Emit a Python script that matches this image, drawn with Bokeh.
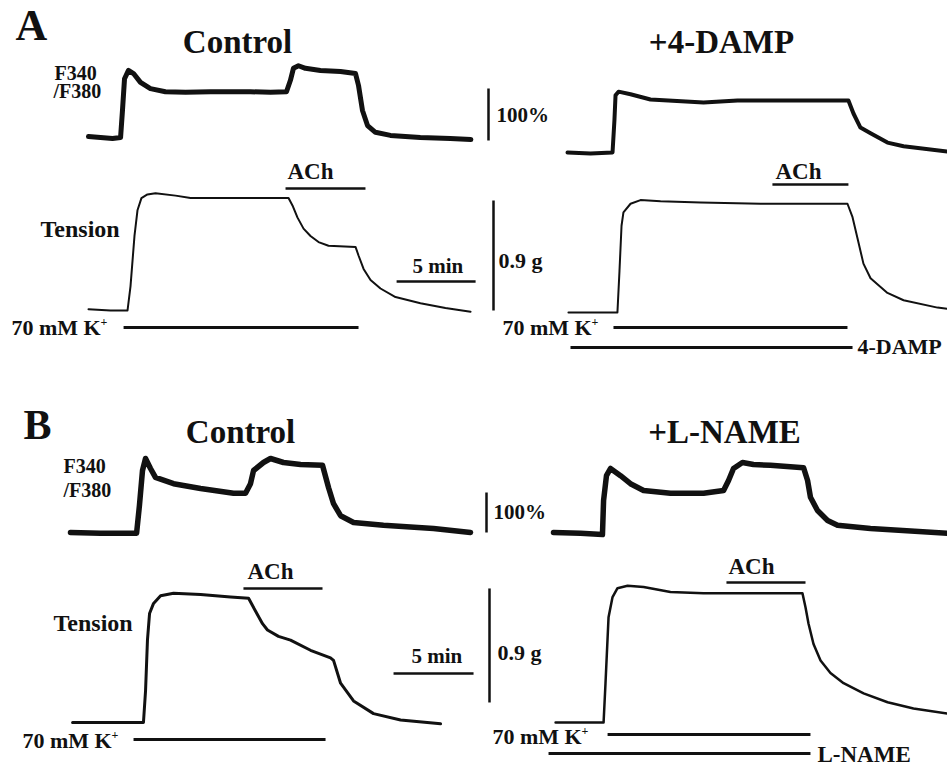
from bokeh.plotting import figure
from bokeh.models import Range1d
from bokeh.core.properties import value
from bokeh.embed import file_html
from bokeh.resources import INLINE

# ---------------- data (time in min, Fura-2 ratio in % of rest, tension in g) -------------
# Panel A, Control
A_CTRL_RATIO_T = [0, 0.76, 1.52, 2.03, 2.15, 2.28, 2.53, 2.85, 3.29, 3.92, 4.87, 6.14, 7.72, 8.99,
                  10.25, 11.52, 12.53, 12.78, 12.97, 13.29, 13.73, 14.68, 15.95, 16.9, 17.09, 17.34,
                  17.66, 18.16, 19.11, 21.0, 22.9, 24.2]
A_CTRL_RATIO_V = [2, 0, -2, 0, 52, 113, 129, 123, 106, 94, 88, 87, 88, 88, 88, 87, 88, 110, 133,
                  138, 133, 129, 127, 123, 100, 52, 23, 10, 4, 0, -2, -4]
A_CTRL_TENS_T = [0, 1.39, 2.47, 2.66, 2.91, 3.10, 3.35, 3.73, 4.24, 5.51, 6.46, 8.99, 11.52, 12.66,
                 12.91, 13.23, 13.61, 14.05, 14.56, 15.19, 16.90, 17.09, 17.41, 17.85, 18.48, 19.43,
                 21.01, 22.59, 24.18]
A_CTRL_TENS_V = [0.01, 0, 0, 0.20, 0.61, 0.82, 0.92, 0.95, 0.96, 0.94, 0.92, 0.92, 0.92, 0.92,
                 0.86, 0.76, 0.67, 0.61, 0.56, 0.53, 0.52, 0.45, 0.34, 0.25, 0.18, 0.11, 0.06,
                 0.02, -0.01]
# Panel A, +4-DAMP
A_DAMP_RATIO_T = [0, 1.46, 2.85, 2.97, 3.04, 3.23, 3.99, 5.25, 8.61, 10.76, 14.94, 17.78, 18.10,
                  18.54, 19.18, 20.25, 21.27, 24.05]
A_DAMP_RATIO_V = [0, -2, 0, 62, 110, 117, 112, 102, 96, 100, 100, 100, 75, 48, 37, 19, 12, 2]
A_DAMP_TENS_T = [0.06, 3.16, 3.29, 3.42, 3.54, 3.99, 4.62, 5.89, 8.42, 12.22, 17.72, 18.04, 18.35,
                 18.73, 19.18, 20.25, 21.27, 23.42, 24.05]
A_DAMP_TENS_V = [0, 0, 0.34, 0.71, 0.82, 0.89, 0.92, 0.91, 0.90, 0.89, 0.89, 0.78, 0.61, 0.40,
                 0.28, 0.16, 0.10, 0.04, 0.03]
# Panel B, Control
B_CTRL_RATIO_T = [0, 1.88, 4.13, 4.31, 4.5, 4.69, 5.0, 5.31, 6.44, 8.13, 10.19, 10.94, 11.25, 11.44,
                  12.06, 12.5, 13.31, 14.38, 15.75, 16.13, 16.44, 16.88, 17.69, 19.56, 22.69, 25.0]
B_CTRL_RATIO_V = [0, -2, -2, 68, 155, 185, 160, 138, 122, 110, 98, 98, 122, 155, 175, 185, 175,
                  170, 168, 112, 72, 42, 25, 18, 10, 0]
B_CTRL_TENS_T = [0.13, 4.56, 4.69, 4.81, 4.94, 5.19, 5.63, 6.44, 8.13, 10.0, 11.13, 11.56, 12.0,
                 12.31, 13.0, 13.75, 15.0, 16.25, 16.44, 16.88, 17.69, 18.94, 20.63, 23.13]
B_CTRL_TENS_V = [0, 0, 0.25, 0.65, 0.86, 0.94, 1.00, 1.02, 1.01, 0.99, 0.98, 0.88, 0.78, 0.73,
                 0.68, 0.65, 0.57, 0.51, 0.49, 0.31, 0.17, 0.07, 0.02, -0.01]
# Panel B, +L-NAME
B_LNAME_RATIO_T = [0, 1.69, 3.06, 3.13, 3.31, 3.56, 4.19, 4.81, 5.63, 7.31, 9.38, 10.63, 10.94,
                   11.25, 11.81, 12.5, 13.56, 15.63, 15.88, 16.06, 16.5, 17.13, 17.75, 19.81, 24.63]
B_LNAME_RATIO_V = [0, -2, -5, 80, 142, 160, 142, 122, 105, 98, 98, 105, 130, 160, 175, 170, 168,
                   162, 130, 88, 55, 30, 18, 10, -2]
B_LNAME_TENS_T = [0.13, 3.13, 3.25, 3.44, 3.69, 4.0, 4.63, 5.63, 7.31, 9.38, 13.56, 15.56, 15.75,
                  15.94, 16.25, 16.69, 17.31, 18.13, 19.38, 20.88, 22.5, 24.63]
B_LNAME_TENS_V = [0, 0, 0.31, 0.83, 0.99, 1.06, 1.08, 1.07, 1.03, 1.02, 1.02, 1.02, 0.91, 0.78,
                  0.62, 0.49, 0.39, 0.31, 0.23, 0.16, 0.11, 0.07]

# application periods (min): [start, end]
A_CTRL_K = [2.22, 17.09]
A_CTRL_ACH = [12.47, 17.53]
A_DAMP_K = [2.91, 17.72]
A_DAMP_ACH = [12.97, 17.78]
A_DAMP_DRUG = [0.19, 18.04]
B_CTRL_K = [3.94, 15.94]
B_CTRL_ACH = [10.81, 15.75]
B_LNAME_K = [3.38, 16.06]
B_LNAME_ACH = [10.81, 15.75]
B_LNAME_DRUG = [-0.31, 16.06]

# scale bars
SCALE_TIME = 5.0      # min
SCALE_RATIO = 100.0   # %
SCALE_TENSION = 0.9   # g

# ---------------- layout ----------------
W, H = 947, 767
OFF = 0
INK = "#111111"
FONT = value("Liberation Serif")
BASE_SHIFT = 0.38   # empirical correction of the SVG alphabetic baseline (in em)


def xr(t0_px, px_per_min):
    return Range1d((OFF - t0_px) / px_per_min, (OFF + W - t0_px) / px_per_min)


def yr(zero_px, px_per_unit):
    return Range1d((zero_px - (OFF + H)) / px_per_unit, (zero_px - OFF) / px_per_unit)


p = figure(width=W, height=H, x_range=Range1d(OFF, OFF + W), y_range=Range1d(OFF + H, OFF),
           output_backend="svg", toolbar_location=None, min_border=0,
           x_axis_location=None, y_axis_location=None)
p.outline_line_color = None
p.grid.visible = False
p.background_fill_color = "white"
p.border_fill_color = "white"

p.extra_x_ranges = {
    "tAL": xr(88, 15.8), "tAR": xr(567, 15.8),
    "tBL": xr(70, 16.0), "tBR": xr(553, 16.0),
}
p.extra_y_ranges = {
    "rAL": yr(137, 0.52), "gAL": yr(310, 122.2),
    "rAR": yr(152, 0.52), "gAR": yr(312, 122.2),
    "rBL": yr(532, 0.40), "gBL": yr(722, 126.7),
    "rBR": yr(532, 0.40), "gBR": yr(722, 126.7),
}

traces = [
    (A_CTRL_RATIO_T, A_CTRL_RATIO_V, "tAL", "rAL", 5),
    (A_CTRL_TENS_T, A_CTRL_TENS_V, "tAL", "gAL", 2),
    (A_DAMP_RATIO_T, A_DAMP_RATIO_V, "tAR", "rAR", 4),
    (A_DAMP_TENS_T, A_DAMP_TENS_V, "tAR", "gAR", 2),
    (B_CTRL_RATIO_T, B_CTRL_RATIO_V, "tBL", "rBL", 5.5),
    (B_CTRL_TENS_T, B_CTRL_TENS_V, "tBL", "gBL", 3),
    (B_LNAME_RATIO_T, B_LNAME_RATIO_V, "tBR", "rBR", 5.5),
    (B_LNAME_TENS_T, B_LNAME_TENS_V, "tBR", "gBR", 2.5),
]
for t, v, xn, yn, lw in traces:
    p.line(t, v, x_range_name=xn, y_range_name=yn, line_color=INK, line_width=lw,
           line_join="round", line_cap="round")

# application bars (x in min, y in page pixels)
bars = [
    (A_CTRL_K, 327, "tAL", 3), (A_CTRL_ACH, 188, "tAL", 2.5),
    (A_DAMP_K, 327, "tAR", 3), (A_DAMP_ACH, 184, "tAR", 2.5), (A_DAMP_DRUG, 347, "tAR", 3),
    (B_CTRL_K, 739, "tBL", 3), (B_CTRL_ACH, 588, "tBL", 2.5),
    (B_LNAME_K, 734, "tBR", 3), (B_LNAME_ACH, 582, "tBR", 2.5), (B_LNAME_DRUG, 753, "tBR", 3),
]
for (t0, t1), y, xn, lw in bars:
    p.segment(x0=[t0], y0=[y], x1=[t1], y1=[y], x_range_name=xn, line_color=INK, line_width=lw)

# time scale bars
p.segment(x0=[19.5], y0=[281], x1=[19.5 + SCALE_TIME], y1=[281], x_range_name="tAL",
          line_color=INK, line_width=2.5)
p.segment(x0=[20.19], y0=[673], x1=[20.19 + SCALE_TIME], y1=[673], x_range_name="tBL",
          line_color=INK, line_width=2.5)
# ratio scale bars
p.segment(x0=[488], y0=[-5.8], x1=[488], y1=[-5.8 + SCALE_RATIO], y_range_name="rAL",
          line_color=INK, line_width=2.5)
p.segment(x0=[486], y0=[0], x1=[486], y1=[SCALE_RATIO], y_range_name="rBL",
          line_color=INK, line_width=2.5)
# tension scale bars
p.segment(x0=[493], y0=[0], x1=[493], y1=[SCALE_TENSION], y_range_name="gAL",
          line_color=INK, line_width=2.5)
p.segment(x0=[489], y0=[0.158], x1=[489], y1=[0.158 + SCALE_TENSION], y_range_name="gBL",
          line_color=INK, line_width=2.5)


def label(xs, ys, texts, size, align="left"):
    ys = [y - BASE_SHIFT * size for y in ys]
    p.text(x=xs, y=ys, text=texts, text_font=FONT, text_font_style="bold",
           text_font_size=f"{size}px", text_align=align, text_baseline="alphabetic",
           text_color=INK)


label([15], [42], ["A"], 44)
label([23], [440], ["B"], 42)
label([237, 721, 240, 724], [54, 54, 444, 444], ["Control", "+4-DAMP", "Control", "+L-NAME"],
      33, "center")
label([54, 53, 63, 63], [80, 98, 473, 497], ["F340", "/F380", "F340", "/F380"], 20)
label([40, 53], [238, 632], ["Tension", "Tension"], 24)
label([287, 775, 247, 728], [180, 180, 580, 575], ["ACh", "ACh", "ACh", "ACh"], 23)
label([412, 411], [273, 663], ["5 min", "5 min"], 21)
label([496, 493], [122, 519], ["100%", "100%"], 21)
label([498, 497], [268, 660], ["0.9 g", "0.9 g"], 22)
label([11, 502, 22, 492], [335, 335, 748, 744], ["70 mM K"] * 4, 22)
label([100, 591, 111, 581], [326, 326, 739, 735], ["+"] * 4, 12)
label([857], [354], ["4-DAMP"], 22)
label([817], [763], ["L-NAME"], 23)

open("out.html", "w").write(file_html(p, INLINE))
